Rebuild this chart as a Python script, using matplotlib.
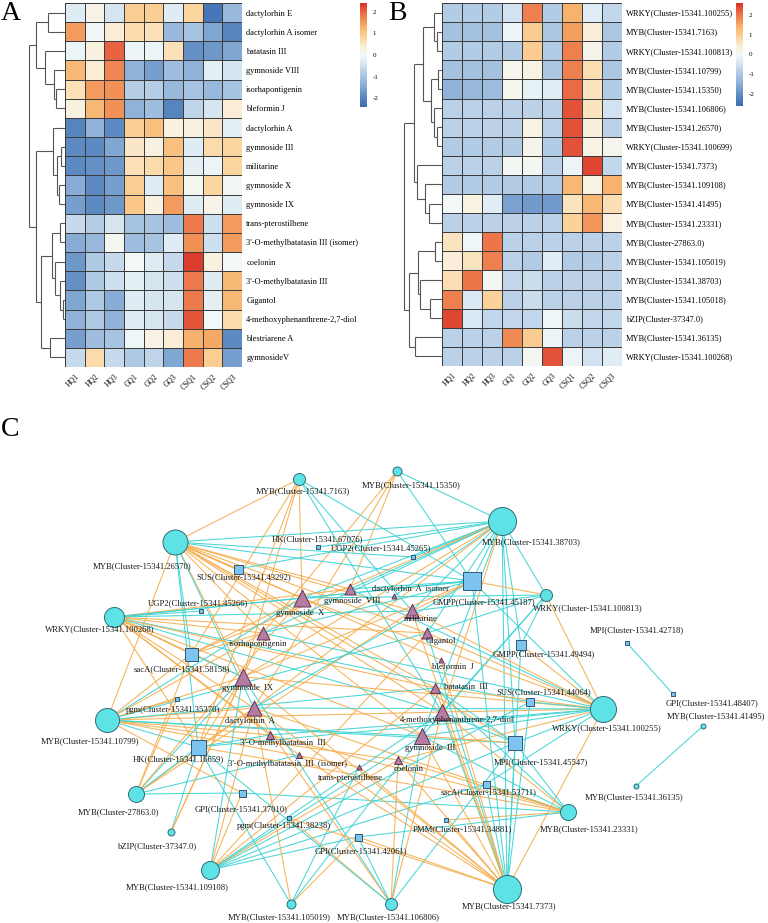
import numpy as np
import matplotlib
matplotlib.use("Agg")
import matplotlib.pyplot as plt
from matplotlib.colors import LinearSegmentedColormap, Normalize
from matplotlib.cm import ScalarMappable

plt.rcParams['font.family'] = ['Liberation Serif', 'DejaVu Serif']
plt.rcParams['axes.unicode_minus'] = False

# ---------------- DATA ----------------
samples = ["HQ1", "HQ2", "HQ3", "GQ1", "GQ2", "GQ3", "CSQ1", "CSQ2", "CSQ3"]

metabolites = ["dactylorhin E", "dactylorhin A isomer", "batatasin III", "gymnoside VIII",
               "isorhapontigenin", "bleformin J", "dactylorhin A", "gymnoside III", "militarine",
               "gymnoside X", "gymnoside IX", "trans-pterostilbene",
               "3'-O-methylbatatasin III (isomer)", "coelonin", "3'-O-methylbatatasin III",
               "Gigantol", "4-methoxyphenanthrene-2,7-diol", "blestriarene A", "gymnosideV"]
met_z = [
    [-0.3, 0.2, -0.4, 0.9, 0.9, -0.3, 0.8, -2.2, -1.2],
    [1.5, -0.05, 0.4, 0.7, 0.6, -1.2, -1.0, -1.5, -2.0],
    [-0.1, 0.3, 2.0, -0.1, -0.1, 0.6, -1.8, -1.7, -1.5],
    [1.2, 0.4, 1.7, -1.3, -1.6, -1.1, -1.3, -0.2, -0.4],
    [0.6, 1.5, 1.6, -0.8, -0.8, -1.2, -1.0, -1.2, -1.0],
    [0.3, 1.2, 1.6, -1.3, -1.1, -2.0, -0.7, -0.4, 0.4],
    [-2.0, -1.3, -1.9, 0.9, 1.1, 0.3, 0.3, 0.5, -0.2],
    [-1.9, -1.9, -1.5, 0.5, 0.3, 1.1, -0.3, 0.7, 0.8],
    [-1.9, -1.8, -1.7, 0.6, 0.7, 1.0, -0.2, -0.1, 0.8],
    [-1.4, -1.9, -1.6, 0.9, -0.3, 1.1, 0.1, 0.8, 0.05],
    [-1.6, -1.9, -1.7, 1.0, 0.3, 1.5, -0.3, 0.2, -0.3],
    [-0.6, -0.8, -0.4, -1.0, -1.0, -1.1, 1.8, -0.5, 1.5],
    [-1.4, -1.2, 0.1, -1.1, -1.0, -0.3, 1.6, -0.5, 1.5],
    [-1.7, -0.9, -0.6, 0.0, -0.3, -0.6, 2.3, 0.3, 0.0],
    [-1.8, -0.9, -0.5, -0.2, -0.4, -0.5, 1.8, -0.3, 1.2],
    [-1.5, -0.9, -1.4, -0.3, -0.4, -0.4, 1.8, -0.2, 1.2],
    [-1.3, -0.9, -1.3, -0.3, -0.4, -0.6, 2.1, 0.0, 0.7],
    [-1.6, -1.1, -1.0, -0.05, 0.25, 0.4, 1.3, 1.4, -1.9],
    [-0.6, 0.7, -0.6, -0.9, -0.7, -1.5, 1.8, 0.9, -1.6],
]

tfs = ["WRKY(Cluster-15341.100255)", "MYB(Cluster-15341.7163)", "WRKY(Cluster-15341.100813)",
       "MYB(Cluster-15341.10799)", "MYB(Cluster-15341.15350)", "MYB(Cluster-15341.106806)",
       "MYB(Cluster-15341.26570)", "WRKY(Cluster-15341.100699)", "MYB(Cluster-15341.7373)",
       "MYB(Cluster-15341.109108)", "MYB(Cluster-15341.41495)", "MYB(Cluster-15341.23331)",
       "MYB(Cluster-27863.0)", "MYB(Cluster-15341.105019)", "MYB(Cluster-15341.38703)",
       "MYB(Cluster-15341.105018)", "bZIP(Cluster-37347.0)", "MYB(Cluster-15341.36135)",
       "WRKY(Cluster-15341.100268)"]
tf_z = [
    [-0.9, -0.9, -0.9, -0.5, 1.9, -0.9, 1.4, -0.3, -0.7],
    [-1.1, -1.1, -1.1, -0.1, 1.0, -1.0, 1.6, 0.4, -1.0],
    [-0.9, -0.9, -0.9, -0.9, 1.0, -0.9, 1.9, 0.2, -0.9],
    [-1.1, -1.1, -1.1, 0.15, 0.3, -1.0, 1.9, 0.7, -1.0],
    [-1.4, -1.3, -1.2, 0.15, -0.2, -0.3, 2.1, 0.6, -0.9],
    [-0.8, -0.8, -0.8, -0.8, -0.8, -0.8, 2.3, 0.6, -0.5],
    [-0.8, -0.8, -0.8, -0.8, 0.3, -0.8, 2.3, 0.4, -0.8],
    [-0.9, -0.9, -0.9, -0.9, 0.2, -0.9, 2.3, 0.3, 0.15],
    [-0.8, -0.8, -0.8, 0.05, 0.1, -0.8, -0.1, 2.4, -0.7],
    [-0.9, -0.9, -0.9, -0.9, -0.9, -0.9, 1.3, 0.3, 1.4],
    [0.0, 0.3, -0.3, -1.7, -1.8, -1.8, 0.6, 1.3, 0.7],
    [-0.8, -0.8, -0.8, -0.8, -0.8, -0.8, 0.9, 1.7, 0.3],
    [0.6, -0.05, 2.0, -0.8, -0.8, -0.8, -0.8, -0.8, -0.8],
    [0.4, 0.6, 1.9, -0.8, -0.9, -0.3, -0.9, -0.9, -0.8],
    [0.7, 2.0, 0.1, -0.7, -0.6, -0.8, -0.8, -0.8, -0.8],
    [1.9, -0.4, 0.9, -0.8, -0.6, -0.8, -0.8, -0.8, -0.8],
    [2.4, -0.4, -0.7, -0.7, -0.7, -0.05, -0.6, -0.7, -0.7],
    [-0.8, -0.8, -0.8, 1.8, 1.0, -0.1, -0.8, -0.8, -0.8],
    [-0.8, -0.8, -0.8, -0.8, 0.1, 2.3, -0.1, -0.5, -0.3],
]

# dendrogram trees: (left, right, merge height)
tree_A = (((0, 1, 17.3), (2, (3, (4, 5, 9.0), 11.0), 20.0), 29.0),
          ((6, ((7, 8, 4.0), (9, 10, 6.3), 8.3), 11.7),
           (((11, 12, 5.0), (13, (14, (15, 16, 2.3), 5.0), 10.0), 13.3), (17, 18, 15.0), 24.3),
           29.0),
          35.7)
tree_B = ((((0, (1, 2, 5.0), 8.3), ((3, 4, 4.0), (5, (6, 7, 5.0), 7.7), 11.0), 19.0),
           (8, (9, (10, 11, 12.7), 16.7), 25.0), 28.3),
          (((12, 13, 6.7), (14, (15, 16, 12.3), 21.7), 24.0), (17, 18, 27.3), 33.3),
          37.7)

# network nodes: id, label, type
node_ids = ["t7163", "t15350", "t38703", "t26570", "t100813", "t100268", "t10799", "t100255",
            "t27863", "t37347", "t23331", "t109108", "t105019", "t106806", "t7373", "t41495", "t36135",
            "mX", "mVIII", "mAiso", "mMil", "mIso", "mGig", "mBleJ", "mIX", "mBat", "mDA", "m4M",
            "m3O", "mIII", "m3Oi", "mCoe", "mTP",
            "gHK67076", "gUGP45265", "gSUS43292", "gUGP45266", "gGMPP45187", "gGMPP49494",
            "gMPI42718", "gSacA58158", "gPgm35370", "gHK16659", "gSUS44064", "gMPI45547",
            "gGPI37010", "gPgm38238", "gSacA53711", "gGPI42061", "gPMM34881", "gGPI48407"]
node_labels = ["MYB(Cluster-15341.7163)", "MYB(Cluster-15341.15350)", "MYB(Cluster-15341.38703)",
               "MYB(Cluster-15341.26570)", "WRKY(Cluster-15341.100813)", "WRKY(Cluster-15341.100268)",
               "MYB(Cluster-15341.10799)", "WRKY(Cluster-15341.100255)", "MYB(Cluster-27863.0)",
               "bZIP(Cluster-37347.0)", "MYB(Cluster-15341.23331)", "MYB(Cluster-15341.109108)",
               "MYB(Cluster-15341.105019)", "MYB(Cluster-15341.106806)", "MYB(Cluster-15341.7373)",
               "MYB(Cluster-15341.41495)", "MYB(Cluster-15341.36135)",
               "gymnoside  X", "gymnoside  VIII", "dactylorhin  A  isomer", "militarine",
               "isorhapontigenin", "Gigantol", "bleformin  J", "gymnoside  IX", "batatasin  III",
               "dactylorhin  A", "4-methoxyphenanthrene-2,7-diol", "3'-O-methylbatatasin  III",
               "gymnoside  III", "3'-O-methylbatatasin  III  (isomer)", "coelonin", "trans-pterostilbene",
               "HK(Cluster-15341.67076)", "UGP2(Cluster-15341.45265)", "SUS(Cluster-15341.43292)",
               "UGP2(Cluster-15341.45266)", "GMPP(Cluster-15341.45187)", "GMPP(Cluster-15341.49494)",
               "MPI(Cluster-15341.42718)", "sacA(Cluster-15341.58158)", "pgm(Cluster-15341.35370)",
               "HK(Cluster-15341.16659)", "SUS(Cluster-15341.44064)", "MPI(Cluster-15341.45547)",
               "GPI(Cluster-15341.37010)", "pgm(Cluster-15341.38238)", "sacA(Cluster-15341.53711)",
               "GPI(Cluster-15341.42061)", "PMM(Cluster-15341.34881)", "GPI(Cluster-15341.48407)"]
node_type = ["tf"] * 17 + ["met"] * 16 + ["gene"] * 18
# node size (relative degree, drawn as marker diameter in px)
node_size = [12, 9, 28, 25, 12, 20, 24, 26, 16, 7, 16, 18, 9, 12, 28, 5, 5,
             17, 11, 5, 14, 13, 11, 5, 17, 10, 15, 16, 8, 16, 6, 8, 5,
             4, 5, 9, 4, 18, 10, 3.5, 13, 5, 15, 8, 14, 7, 3.5, 7, 7, 3.5, 3.5]

# edges: source, target, correlation sign (o = orange, c = cyan)
edges = [
    ("t7163", "mX", "o"), ("t7163", "mMil", "c"), ("t7163", "gHK16659", "o"), ("t7163", "mIX", "o"),
    ("t7163", "gGMPP45187", "c"), ("t7163", "gSacA58158", "o"), ("t7163", "m4M", "c"),
    ("t7163", "t26570", "o"),
    ("t15350", "mVIII", "o"), ("t15350", "gGMPP45187", "c"), ("t15350", "t38703", "c"),
    ("t15350", "mIso", "o"), ("t15350", "mDA", "o"),
    ("t26570", "mX", "o"), ("t26570", "mVIII", "o"), ("t26570", "mMil", "o"), ("t26570", "mIso", "o"),
    ("t26570", "mIX", "o"), ("t26570", "mDA", "c"), ("t26570", "m4M", "o"), ("t26570", "mIII", "o"),
    ("t26570", "mGig", "o"), ("t26570", "gGMPP45187", "c"), ("t26570", "gSUS43292", "o"),
    ("t26570", "gHK16659", "c"), ("t26570", "gSacA58158", "c"), ("t26570", "mBleJ", "o"),
    ("t26570", "mBat", "o"), ("t26570", "gMPI45547", "o"), ("t26570", "gUGP45265", "c"),
    ("t26570", "t10799", "o"), ("t26570", "t38703", "c"),
    ("t38703", "mX", "c"), ("t38703", "mVIII", "c"), ("t38703", "mMil", "c"), ("t38703", "mIso", "c"),
    ("t38703", "mAiso", "c"), ("t38703", "gGMPP45187", "c"), ("t38703", "gUGP45265", "c"),
    ("t38703", "gSUS43292", "c"), ("t38703", "gHK67076", "c"), ("t38703", "mIX", "o"),
    ("t38703", "mDA", "o"), ("t38703", "mIII", "c"), ("t38703", "m4M", "o"), ("t38703", "mGig", "c"),
    ("t38703", "gGMPP49494", "c"), ("t38703", "gMPI45547", "c"), ("t38703", "t100813", "c"),
    ("t38703", "t7373", "c"), ("t38703", "gSacA58158", "o"),
    ("t100813", "gGMPP45187", "o"), ("t100813", "mMil", "c"), ("t100813", "mGig", "c"),
    ("t100813", "gGMPP49494", "c"), ("t100813", "t100255", "o"), ("t100813", "mIII", "c"),
    ("t100813", "m4M", "c"), ("t100813", "mX", "c"),
    ("t100268", "mX", "c"), ("t100268", "mVIII", "o"), ("t100268", "mIso", "o"), ("t100268", "mIX", "o"),
    ("t100268", "mDA", "o"), ("t100268", "m3O", "o"), ("t100268", "mIII", "o"), ("t100268", "m4M", "c"),
    ("t100268", "gUGP45266", "c"), ("t100268", "gSacA58158", "o"), ("t100268", "gHK16659", "o"),
    ("t100268", "mMil", "c"), ("t100268", "gGMPP45187", "c"), ("t100268", "mGig", "o"),
    ("t100268", "gSUS44064", "c"), ("t100268", "mBat", "o"), ("t100268", "m3Oi", "o"),
    ("t10799", "mIX", "o"), ("t10799", "mDA", "o"), ("t10799", "m3O", "o"), ("t10799", "mX", "c"),
    ("t10799", "mIso", "o"), ("t10799", "gHK16659", "c"), ("t10799", "gPgm35370", "o"),
    ("t10799", "mIII", "c"), ("t10799", "m4M", "o"), ("t10799", "mGig", "c"),
    ("t10799", "gSacA58158", "o"), ("t10799", "gMPI45547", "c"), ("t10799", "mCoe", "o"),
    ("t10799", "mBat", "c"), ("t10799", "gGPI37010", "o"), ("t10799", "mTP", "o"),
    ("t100255", "mX", "o"), ("t100255", "mVIII", "c"), ("t100255", "mMil", "o"), ("t100255", "mIso", "c"),
    ("t100255", "mGig", "o"), ("t100255", "mBat", "o"), ("t100255", "m4M", "o"), ("t100255", "mIII", "c"),
    ("t100255", "mIX", "o"), ("t100255", "mDA", "c"), ("t100255", "gSUS44064", "c"),
    ("t100255", "gMPI45547", "c"), ("t100255", "gGMPP45187", "c"), ("t100255", "gGMPP49494", "o"),
    ("t100255", "gSacA53711", "c"), ("t100255", "m3O", "c"), ("t100255", "mCoe", "o"),
    ("t100255", "gHK16659", "c"), ("t100255", "t7373", "o"),
    ("t27863", "mIX", "c"), ("t27863", "mDA", "o"), ("t27863", "gHK16659", "c"),
    ("t27863", "gSacA58158", "o"), ("t27863", "mX", "o"), ("t27863", "m3Oi", "c"),
    ("t27863", "gGPI37010", "c"), ("t27863", "gPgm35370", "o"), ("t27863", "mMil", "o"),
    ("t37347", "gHK16659", "c"), ("t37347", "mIX", "o"), ("t37347", "mIso", "o"),
    ("t23331", "m4M", "o"), ("t23331", "mIII", "c"), ("t23331", "mCoe", "o"), ("t23331", "gSacA53711", "c"),
    ("t23331", "gPMM34881", "o"), ("t23331", "gGPI42061", "c"), ("t23331", "mDA", "o"),
    ("t23331", "m3O", "o"), ("t23331", "gMPI45547", "c"), ("t23331", "mBat", "c"),
    ("t23331", "gHK16659", "o"), ("t23331", "gGPI37010", "c"),
    ("t109108", "mIX", "c"), ("t109108", "mDA", "o"), ("t109108", "gGPI37010", "o"),
    ("t109108", "gGPI42061", "c"), ("t109108", "m4M", "c"), ("t109108", "mIII", "c"),
    ("t109108", "gMPI45547", "c"), ("t109108", "mCoe", "o"), ("t109108", "gSacA53711", "c"),
    ("t109108", "mGig", "o"), ("t109108", "mBat", "o"), ("t109108", "gSUS44064", "c"),
    ("t105019", "gHK16659", "c"), ("t105019", "mDA", "o"), ("t105019", "mTP", "c"),
    ("t105019", "gGPI42061", "o"), ("t105019", "mIII", "c"),
    ("t106806", "mIII", "c"), ("t106806", "m4M", "o"), ("t106806", "gPgm38238", "o"),
    ("t106806", "mIX", "c"), ("t106806", "mDA", "o"), ("t106806", "gGPI42061", "c"),
    ("t106806", "gHK16659", "c"), ("t106806", "mCoe", "o"), ("t106806", "gMPI45547", "c"),
    ("t7373", "mIII", "o"), ("t7373", "m4M", "c"), ("t7373", "mBat", "o"), ("t7373", "mGig", "c"),
    ("t7373", "mMil", "o"), ("t7373", "mCoe", "o"), ("t7373", "mTP", "o"), ("t7373", "gMPI45547", "c"),
    ("t7373", "gSUS44064", "c"), ("t7373", "gPMM34881", "o"), ("t7373", "gSacA53711", "c"),
    ("t7373", "gGPI42061", "o"), ("t7373", "mDA", "o"), ("t7373", "mIX", "o"),
    ("t7373", "gGMPP45187", "c"), ("t7373", "gGMPP49494", "c"), ("t7373", "m3Oi", "o"),
    ("t7373", "gPgm38238", "o"), ("t7373", "mBleJ", "o"),
    ("gGMPP45187", "mX", "c"), ("gGMPP45187", "mIso", "c"), ("gGMPP45187", "mIX", "o"),
    ("gGMPP45187", "mDA", "c"), ("gGMPP45187", "mMil", "o"), ("gGMPP45187", "mVIII", "c"),
    ("gHK16659", "mDA", "o"), ("gHK16659", "mIX", "o"), ("gHK16659", "m3O", "c"),
    ("gMPI45547", "mIII", "o"), ("gMPI45547", "m4M", "c"), ("gMPI45547", "mBat", "c"),
    ("gSacA58158", "mIX", "c"), ("gSacA58158", "mIso", "o"), ("gSacA58158", "mX", "o"),
    ("t41495", "t36135", "c"), ("gMPI42718", "gGPI48407", "c"),
]

# ---------------- LAYOUT (network, in figure pixel units) ----------------
node_xy = {
    "t7163": (299, 479), "t15350": (397, 471), "t38703": (502, 521), "t26570": (175, 542),
    "t100813": (546, 595), "t100268": (114, 617), "t10799": (107, 720), "t100255": (603, 709),
    "t27863": (136, 794), "t37347": (171, 832), "t23331": (568, 812), "t109108": (210, 870),
    "t105019": (291, 904), "t106806": (391, 904), "t7373": (507, 889), "t41495": (703, 726),
    "t36135": (636, 786),
    "mX": (302, 598), "mVIII": (350, 589), "mAiso": (394, 596), "mMil": (412, 611),
    "mIso": (263, 633), "mGig": (427, 633), "mBleJ": (441, 660), "mIX": (243, 677),
    "mBat": (435, 688), "mDA": (254, 708), "m4M": (442, 712), "m3O": (270, 735),
    "mIII": (422, 736), "m3Oi": (299, 755), "mCoe": (398, 760), "mTP": (359, 767),
    "gHK67076": (318, 547), "gUGP45265": (413, 557), "gSUS43292": (238, 569),
    "gUGP45266": (201, 611), "gGMPP45187": (472, 581), "gGMPP49494": (521, 645),
    "gMPI42718": (627, 643), "gSacA58158": (191, 654), "gPgm35370": (177, 699),
    "gHK16659": (198, 747), "gSUS44064": (530, 702), "gMPI45547": (515, 743),
    "gGPI37010": (242, 793), "gPgm38238": (289, 818), "gSacA53711": (486, 784),
    "gGPI42061": (358, 837), "gPMM34881": (446, 820), "gGPI48407": (673, 694),
}
label_xy = {
    "t7163": (303, 491), "t15350": (411, 485), "t38703": (531, 542), "t26570": (142, 566),
    "t100813": (588, 608), "t100268": (100, 629), "t10799": (90, 741), "t100255": (607, 728),
    "t27863": (118, 812), "t37347": (158, 846), "t23331": (589, 829), "t109108": (177, 887),
    "t105019": (279, 917), "t106806": (388, 917), "t7373": (509, 906), "t41495": (717, 716),
    "t36135": (634, 797),
    "mX": (300, 613), "mVIII": (352, 601), "mAiso": (410, 589), "mMil": (421, 619),
    "mIso": (258, 644), "mGig": (441, 641), "mBleJ": (453, 667), "mIX": (247, 688),
    "mBat": (466, 687), "mDA": (250, 721), "m4M": (457, 720), "m3O": (283, 743),
    "mIII": (430, 748), "m3Oi": (288, 764), "mCoe": (409, 769), "mTP": (350, 778),
    "gHK67076": (317, 539), "gUGP45265": (381, 548), "gSUS43292": (244, 577),
    "gUGP45266": (198, 603), "gGMPP45187": (484, 602), "gGMPP49494": (544, 654),
    "gMPI42718": (637, 630), "gSacA58158": (182, 669), "gPgm35370": (173, 710),
    "gHK16659": (178, 759), "gSUS44064": (544, 692), "gMPI45547": (541, 762),
    "gGPI37010": (241, 809), "gPgm38238": (284, 826), "gSacA53711": (489, 792),
    "gGPI42061": (361, 851), "gPMM34881": (462, 829), "gGPI48407": (712, 703),
}

W, H = 768, 923
fig = plt.figure(figsize=(W / 100, H / 100), dpi=100)

def fx(px):
    return px / W

def fy(py):
    return 1 - py / H

cmap = LinearSegmentedColormap.from_list("hm", [
    (0.0, '#3A6CB3'), (0.1, '#5C89C2'), (0.22, '#8DB0D8'), (0.33, '#B4CDE6'),
    (0.43, '#DCEAF3'), (0.5, '#F2F8F8'), (0.57, '#FAF0DE'), (0.67, '#FBD59C'),
    (0.78, '#F7AE68'), (0.9, '#EB6E46'), (1.0, '#D73027')])

def draw_tree(ax, node):
    if isinstance(node, int):
        return node + 0.5, 0.0
    left, right, h = node
    yl, hl = draw_tree(ax, left)
    yr, hr = draw_tree(ax, right)
    kw = dict(color='#555555', lw=0.8, solid_capstyle='butt')
    ax.plot([hl, h], [yl, yl], **kw)
    ax.plot([hr, h], [yr, yr], **kw)
    ax.plot([h, h], [yl, yr], **kw)
    return (yl + yr) / 2, h

def heat_panel(data, rows, x0, x1, y0, y1, dx0, vmax, cb, letter, letter_xy, tree):
    arr = np.array(data)
    ax = fig.add_axes([fx(x0), fy(y1), fx(x1 - x0), (y1 - y0) / H])
    ax.pcolormesh(arr, cmap=cmap, vmin=-vmax, vmax=vmax, edgecolors='#3c3c3c', linewidth=0.5)
    ax.set_xlim(0, arr.shape[1])
    ax.set_ylim(arr.shape[0], 0)
    ax.yaxis.tick_right()
    ax.set_yticks(np.arange(arr.shape[0]) + 0.5)
    ax.set_yticklabels(rows, fontsize=6)
    ax.set_xticks(np.arange(arr.shape[1]) + 0.5)
    ax.set_xticklabels(samples, fontsize=5.5, rotation=45, ha='right', va='top',
                       rotation_mode='anchor')
    ax.tick_params(axis='y', length=0, pad=3)
    ax.tick_params(axis='x', length=0, pad=4)
    for s in ax.spines.values():
        s.set_visible(False)
    # dendrogram
    axd = fig.add_axes([fx(dx0), fy(y1), fx(x0 - dx0), (y1 - y0) / H])
    axd.set_xlim(x0 - dx0, 0)
    axd.set_ylim(arr.shape[0], 0)
    axd.axis('off')
    draw_tree(axd, tree)
    # colorbar
    cx0, cx1, cy0, cy1 = cb
    axc = fig.add_axes([fx(cx0), fy(cy1), fx(cx1 - cx0), (cy1 - cy0) / H])
    sm = ScalarMappable(norm=Normalize(-vmax, vmax), cmap=cmap)
    c = fig.colorbar(sm, cax=axc, ticks=[-2, -1, 0, 1, 2])
    c.outline.set_visible(False)
    c.ax.tick_params(labelsize=5, length=0, pad=4)
    fig.text(fx(letter_xy[0]), fy(letter_xy[1]), letter, fontsize=20, ha='left', va='center')

heat_panel(met_z, metabolites, 65, 242, 3, 367, 0, 2.4, (360, 367, 3, 107), 'A', (1, 14), tree_A)
heat_panel(tf_z, tfs, 442, 622, 3, 366, 384, 2.6, (736, 743, 3, 106), 'B', (388, 14), tree_B)

# ---------------- network ----------------
axn = fig.add_axes([0, 0, 1, (H - 400) / H])
axn.set_xlim(0, W)
axn.set_ylim(H, 400)
axn.axis('off')
fig.text(fx(1), fy(430), 'C', fontsize=20, ha='left', va='center')

edge_col = {'o': '#F6AE4E', 'c': '#3FD4D4'}
for s, t, sg in edges:
    (xa, ya), (xb, yb) = node_xy[s], node_xy[t]
    axn.plot([xa, xb], [ya, yb], color=edge_col[sg], lw=0.75, alpha=0.95, zorder=1)

px2pt = 0.72
style = {'tf': ('o', '#5DE3E6', '#2F6B78'),
         'met': ('^', '#B47CA2', '#5E3556'),
         'gene': ('s', '#7EC4F0', '#2E5877')}
for nid, lab, typ, sz in zip(node_ids, node_labels, node_type, node_size):
    x, y = node_xy[nid]
    mk, fc, ec = style[typ]
    axn.scatter([x], [y], s=(sz * px2pt) ** 2, marker=mk, c=fc,
                edgecolors=ec, linewidths=0.7, zorder=3)
    lx, ly = label_xy[nid]
    if nid == "t41495":
        axn.text(765, ly, lab, fontsize=6.2, ha='right', va='center', color='#1a1a1a', zorder=4)
    else:
        axn.text(lx, ly, lab, fontsize=6.2, ha='center', va='center', color='#1a1a1a', zorder=4)

fig.savefig('out.png', dpi=100)
